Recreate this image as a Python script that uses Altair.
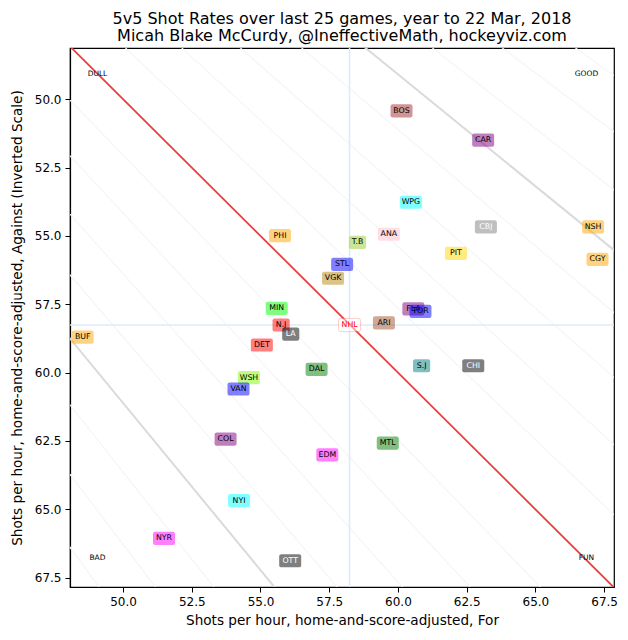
import altair as alt
import pandas as pd

# ---- data ----
teams = ["BOS", "CAR", "WPG", "CBJ", "NSH", "ANA", "T.B", "PIT", "CGY", "STL",
         "VGK", "PHI", "MIN", "N.J", "LA", "BUF", "DET", "DAL", "WSH", "VAN",
         "FLA", "TOR", "ARI", "S.J", "CHI", "COL", "EDM", "MTL", "NYI", "NYR", "OTT"]
shots_for = [60.13, 63.10, 60.47, 63.20, 67.10, 59.67, 58.53, 62.11, 67.26, 57.97,
             57.64, 55.71, 55.59, 55.75, 56.10, 48.53, 55.05, 57.04, 54.58, 54.20,
             60.56, 60.82, 59.49, 60.86, 62.74, 53.73, 57.43, 59.63, 54.22, 51.49, 56.08]
shots_against = [50.43, 51.50, 53.77, 54.67, 54.67, 54.94, 55.24, 55.64, 55.86, 56.04,
                 56.55, 54.99, 57.65, 58.26, 58.59, 58.70, 58.99, 59.88, 60.18, 60.60,
                 57.67, 57.76, 58.18, 59.75, 59.75, 62.43, 63.01, 62.58, 64.68, 66.06, 66.88]
nhl_for = 58.24
nhl_against = 58.26

x_ticks = [50.0, 52.5, 55.0, 57.5, 60.0, 62.5, 65.0, 67.5]
y_ticks = [50.0, 52.5, 55.0, 57.5, 60.0, 62.5, 65.0, 67.5]
x_domain = [48.07, 67.86]
y_domain = [48.13, 67.84]

# shot-share reference lines (fraction of shots for)
share_faint = [0.41, 0.42, 0.43, 0.44, 0.46, 0.47, 0.48, 0.49,
               0.51, 0.52, 0.53, 0.54, 0.56, 0.57, 0.58, 0.59]
share_grey = [0.45, 0.55]
share_even = [0.50]

corner_labels = ["DULL", "GOOD", "BAD", "FUN"]

# ---- styles ----
team_fill = {
    "BOS": "#a52a2a", "CAR": "#800080", "WPG": "#00ffff", "CBJ": "#808080",
    "NSH": "#ffa500", "ANA": "#ffc0cb", "T.B": "#9acd32", "PIT": "#ffd700",
    "CGY": "#ffa500", "STL": "#0000ff", "VGK": "#b8860b", "PHI": "#ffa500",
    "MIN": "#00ff00", "N.J": "#ff0000", "LA": "#000000", "BUF": "#ffa500",
    "DET": "#ff0000", "DAL": "#008000", "WSH": "#7cfc00", "VAN": "#0000ff",
    "FLA": "#800080", "TOR": "#0000ff", "ARI": "#a0522d", "S.J": "#008080",
    "CHI": "#000000", "COL": "#800080", "EDM": "#ff00ff", "MTL": "#008000",
    "NYI": "#00ffff", "NYR": "#ff00ff", "OTT": "#000000",
}
light_text = {"LA", "CHI", "OTT", "CBJ"}
narrow = {"LA", "T.B", "N.J", "S.J"}
drawn_last = "TOR"

FONT = "DejaVu Sans"

df = pd.DataFrame({"team": teams, "sf": shots_for, "sa": shots_against})
df["fill"] = df["team"].map(team_fill)
df["tcol"] = df["team"].map(lambda t: "#ffffff" if t in light_text else "#000000")
df["narrow"] = df["team"].isin(narrow)
df["last"] = df["team"] == drawn_last


def rounded(hw, hh, r=0.2):
    return (f"M{-hw + r},{-hh} L{hw - r},{-hh} Q{hw},{-hh} {hw},{-hh + r} "
            f"L{hw},{hh - r} Q{hw},{hh} {hw - r},{hh} L{-hw + r},{hh} "
            f"Q{-hw},{hh} {-hw},{hh - r} L{-hw},{-hh + r} Q{-hw},{-hh} {-hw + r},{-hh} Z")


wide_shape = rounded(1.0, 0.6)
narrow_shape = rounded(0.78, 0.6)

xs = alt.Scale(domain=x_domain, nice=False, zero=False)
ys = alt.Scale(domain=y_domain, nice=False, zero=False, reverse=True)

x_axis = alt.Axis(values=x_ticks, format=".1f", grid=False, titlePadding=6,
                  title="Shots per hour, home-and-score-adjusted, For")
y_axis = alt.Axis(values=y_ticks, format=".1f", grid=False, titlePadding=10,
                  title="Shots per hour, home-and-score-adjusted, Against (Inverted Scale)")

X = lambda f: alt.X(f, type="quantitative", scale=xs, axis=x_axis)
Y = lambda f: alt.Y(f, type="quantitative", scale=ys, axis=y_axis)


def share_df(shares):
    rows = []
    for p in shares:
        for xv in (30.0, 90.0):
            rows.append({"p": p, "x": xv, "y": xv * (1 - p) / p})
    return pd.DataFrame(rows)


faint = alt.Chart(share_df(share_faint)).mark_line(
    color="#f4f5f7", strokeWidth=1.2, clip=True
).encode(x=X("x"), y=Y("y"), detail="p:N")

grey = alt.Chart(share_df(share_grey)).mark_line(
    color="#dadada", strokeWidth=2, clip=True
).encode(x=X("x"), y=Y("y"), detail="p:N")

even = alt.Chart(share_df(share_even)).mark_line(
    color="#e8403f", strokeWidth=1.8, clip=True
).encode(x=X("x"), y=Y("y"), detail="p:N")

avg_df = pd.DataFrame({"sf": [nhl_for], "sa": [nhl_against], "label": ["NHL"]})
vrule = alt.Chart(avg_df).mark_rule(color="#dfeaf6", strokeWidth=1.6).encode(x=X("sf"))
hrule = alt.Chart(avg_df).mark_rule(color="#dfeaf6", strokeWidth=1.6).encode(y=Y("sa"))

nhl_box = alt.Chart(avg_df).mark_point(
    shape=wide_shape, size=484, filled=True, fill="white", fillOpacity=0.5,
    stroke="#ff0000", strokeOpacity=0.2, strokeWidth=1
).encode(x=X("sf"), y=Y("sa"))
nhl_text = alt.Chart(avg_df).mark_text(
    font=FONT, fontSize=7.8, color="#ff0000"
).encode(x=X("sf"), y=Y("sa"), text="label:N")


def boxes(filter_expr, shape):
    return alt.Chart(df).transform_filter(filter_expr).mark_point(
        shape=shape, size=484, filled=True, fillOpacity=0.5, strokeWidth=0
    ).encode(x=X("sf"), y=Y("sa"), fill=alt.Fill("fill:N", scale=None))


def texts(filter_expr):
    return alt.Chart(df).transform_filter(filter_expr).mark_text(
        font=FONT, fontSize=7.8
    ).encode(x=X("sf"), y=Y("sa"), text="team:N",
             color=alt.Color("tcol:N", scale=None))


wide_boxes = boxes("!datum.narrow && !datum.last", wide_shape)
narrow_boxes = boxes("datum.narrow && !datum.last", narrow_shape)
labels = texts("!datum.last")
last_box = boxes("datum.last", wide_shape)
last_label = texts("datum.last")

corner_df = pd.DataFrame({
    "label": corner_labels,
    "x": [x_domain[0] + 1, x_domain[1] - 1, x_domain[0] + 1, x_domain[1] - 1],
    "y": [y_domain[0] + 0.95, y_domain[0] + 0.95, y_domain[1] - 1.05, y_domain[1] - 1.05],
})
corners = alt.Chart(corner_df).mark_text(font=FONT, fontSize=7.5, color="black").encode(
    x=X("x"), y=Y("y"), text="label:N"
)

chart = alt.layer(
    faint, grey, vrule, hrule, even, nhl_box, nhl_text,
    wide_boxes, narrow_boxes, labels, last_box, last_label, corners
).properties(
    width=544, height=539,
    title=alt.TitleParams(
        ["5v5 Shot Rates over last 25 games, year to 22 Mar, 2018",
         " Micah Blake McCurdy, @IneffectiveMath, hockeyviz.com"],
        font=FONT, fontSize=16, fontWeight="normal", color="black",
        anchor="middle", lineHeight=17.5, offset=3
    ),
    padding={"left": 62, "top": 40, "right": 6, "bottom": 45},
    autosize="none",
).configure_view(
    stroke="black", strokeWidth=1.2
).configure_axis(
    labelFont=FONT, labelFontSize=12, labelColor="black",
    titleFont=FONT, titleFontSize=13.6, titleFontWeight="normal", titleColor="black",
    domainColor="black", domainWidth=1.2, tickColor="black", tickSize=5,
    labelPadding=4
)

chart.save("out.html", embed_options={"renderer": "svg", "actions": False})
